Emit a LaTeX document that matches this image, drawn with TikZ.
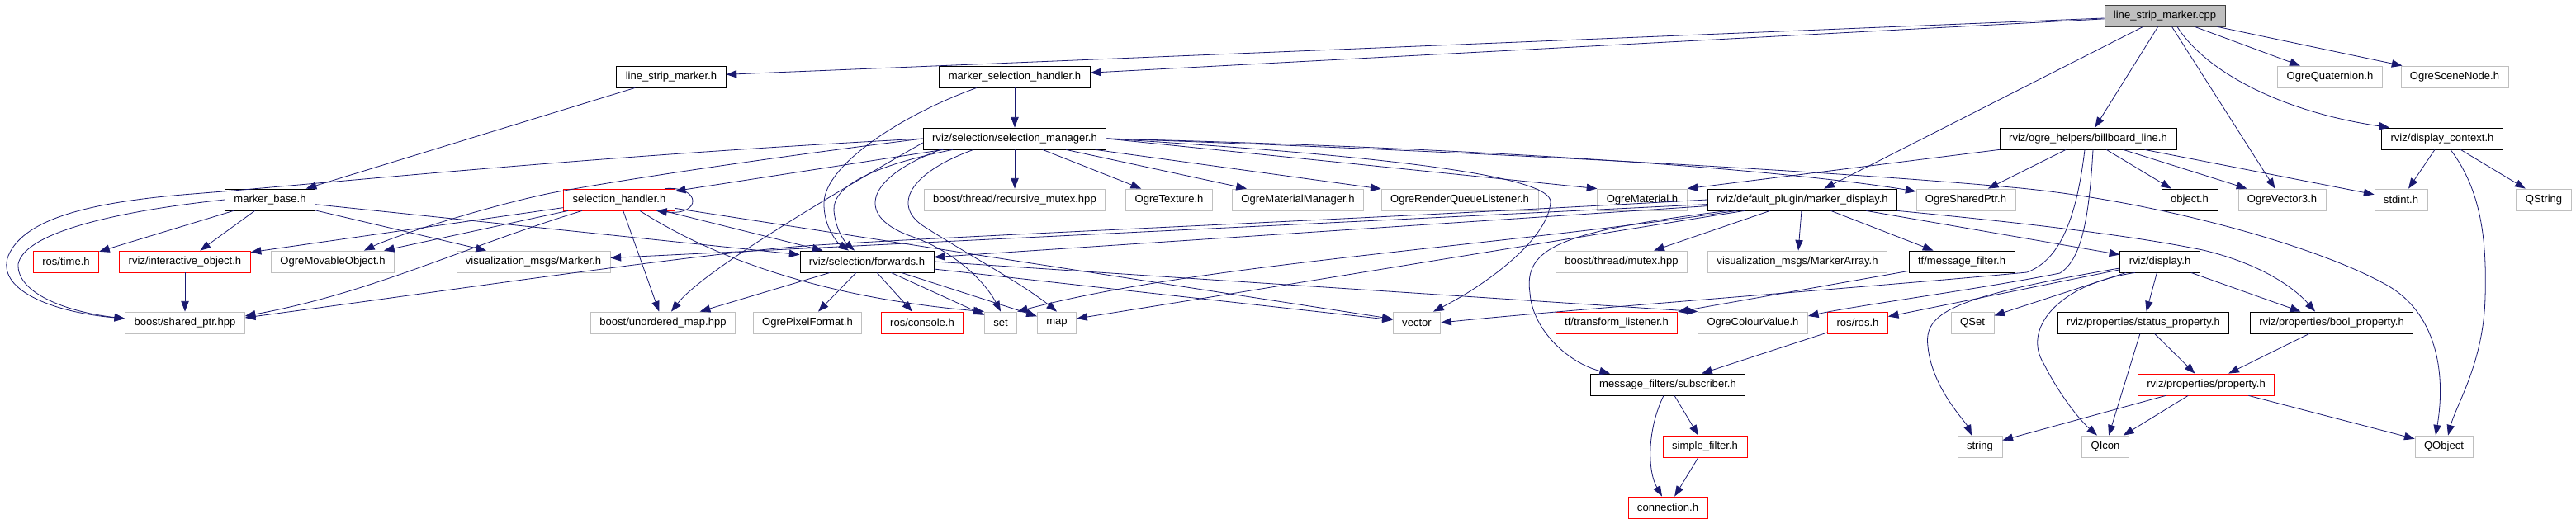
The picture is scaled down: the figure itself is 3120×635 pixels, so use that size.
\documentclass[tikz,border=0pt]{standalone}
\usepackage{fontspec}
\setmainfont{Liberation Sans}
\usepackage{xcolor}
\usetikzlibrary{arrows.meta,calc}

\definecolor{edgeblue}{HTML}{191970}
\definecolor{sysgrey}{HTML}{BFBFBF}
\definecolor{rootgrey}{HTML}{BFBFBF}
\definecolor{rootline}{HTML}{404040}

\begin{document}
\begin{tikzpicture}[x=0.75pt, y=-0.75pt, % one unit = one pixel, y grows downwards
    hdr/.style={rectangle, draw=black, line width=0.6pt, fill=white, inner xsep=8.25pt, inner ysep=0pt, minimum height=19.5pt, font=\fontsize{9.8}{11}\selectfont},
    rootfile/.style={hdr, draw=rootline, fill=rootgrey},
    sysfile/.style={hdr, draw=sysgrey},
    cutfile/.style={hdr, draw=red},
    incl/.style={draw=edgeblue, line width=0.6pt, -{Triangle[length=9.5pt, width=7pt]}}]

        % Page frame
        \useasboundingbox (0,0) rectangle (3120,635);

        % Root file
        \node[rootfile] (cpp) at (2622,19) {line\_strip\_marker.cpp};

        % First level
        \node[hdr] (lsmh) at (813,93) {line\_strip\_marker.h};
        \node[hdr] (msh) at (1229,93) {marker\_selection\_handler.h};
        \node[sysfile] (quat) at (2822,93) {OgreQuaternion.h};
        \node[sysfile] (scn) at (2973,93) {OgreSceneNode.h};

        % Second level
        \node[hdr] (selmgr) at (1229,168) {rviz/selection/selection\_manager.h};
        \node[hdr] (bbl) at (2529,168) {rviz/ogre\_helpers/billboard\_line.h};
        \node[hdr] (dctx) at (2958,168) {rviz/display\_context.h};

        % Third level
        \node[hdr] (mbase) at (327,242) {marker\_base.h};
        \node[cutfile] (shandler) at (750,242) {selection\_handler.h};
        \node[sysfile] (rmutex) at (1229,242) {boost/thread/recursive\_mutex.hpp};
        \node[sysfile] (otex) at (1416,242) {OgreTexture.h};
        \node[sysfile] (omatmgr) at (1572,242) {OgreMaterialManager.h};
        \node[sysfile] (orql) at (1768,242) {OgreRenderQueueListener.h};
        \node[sysfile] (omat) at (1989,242) {OgreMaterial.h};
        \node[hdr] (mdisp) at (2183,242) {rviz/default\_plugin/marker\_display.h};
        \node[sysfile] (osp) at (2381,242) {OgreSharedPtr.h};
        \node[hdr] (obj) at (2652,242) {object.h};
        \node[sysfile] (ov3) at (2764,242) {OgreVector3.h};
        \node[sysfile] (stdint) at (2908,242) {stdint.h};
        \node[sysfile] (qstr) at (3081,242) {QString};

        % Fourth level
        \node[cutfile] (rtime) at (80,317) {ros/time.h};
        \node[cutfile] (iobj) at (224,317) {rviz/interactive\_object.h};
        \node[sysfile] (omov) at (403,317) {OgreMovableObject.h};
        \node[sysfile] (vmark) at (646,317) {visualization\_msgs/Marker.h};
        \node[hdr] (fwd) at (1050,317) {rviz/selection/forwards.h};
        \node[sysfile] (bmutex) at (1964,317) {boost/thread/mutex.hpp};
        \node[sysfile] (vmarr) at (2177,317) {visualization\_msgs/MarkerArray.h};
        \node[hdr] (tfmf) at (2376,317) {tf/message\_filter.h};
        \node[hdr] (disp) at (2616,317) {rviz/display.h};

        % Fifth level
        \node[sysfile] (sptr) at (224,391) {boost/shared\_ptr.hpp};
        \node[sysfile] (umap) at (803,391) {boost/unordered\_map.hpp};
        \node[sysfile] (opix) at (978,391) {OgrePixelFormat.h};
        \node[cutfile] (rcon) at (1117,391) {ros/console.h};
        \node[sysfile] (set) at (1212,391) {set};
        \node[sysfile] (map) at (1280,391) {map};
        \node[sysfile] (vec) at (1716,391) {vector};
        \node[cutfile] (tftl) at (1958,391) {tf/transform\_listener.h};
        \node[sysfile] (ocol) at (2123,391) {OgreColourValue.h};
        \node[cutfile] (rros) at (2250,391) {ros/ros.h};
        \node[sysfile] (qset) at (2389,391) {QSet};
        \node[hdr] (stprop) at (2596,391) {rviz/properties/status\_property.h};
        \node[hdr] (bprop) at (2824,391) {rviz/properties/bool\_property.h};

        % Lower levels
        \node[hdr] (mfsub) at (2020,466) {message\_filters/subscriber.h};
        \node[cutfile] (prop) at (2672,466) {rviz/properties/property.h};
        \node[cutfile] (sfilt) at (2065,541) {simple\_filter.h};
        \node[sysfile] (str) at (2398,541) {string};
        \node[sysfile] (qicon) at (2550,541) {QIcon};
        \node[sysfile] (qobj) at (2960,541) {QObject};
        \node[cutfile] (conn) at (2020,615) {connection.h};

        % Includes of the root file
        \draw[incl] (cpp) -- (lsmh);
        \draw[incl] (cpp) -- (msh);
        \draw[incl] (cpp) -- (mdisp);
        \draw[incl] (cpp) -- (bbl);
        \draw[incl] (cpp) -- (ov3);
        \draw[incl] ($(cpp.south)+(15,0)$) .. controls (2670,85) and (2760,135) .. ($(dctx.north west)+(10,0)$);
        \draw[incl] (cpp) -- (quat);
        \draw[incl] (cpp) -- (scn);

        % line_strip_marker.h and marker_selection_handler.h
        \draw[incl] (lsmh) -- (mbase);
        \draw[incl] (msh) -- (selmgr);
        \draw[incl] ($(msh.south)+(-46,0)$) .. controls (1090,140) and (1000,200) .. (998,245) .. controls (997,275) and (1015,295) .. ($(fwd.north)+(-22,0)$);

        % selection_manager.h
        \draw[incl] (selmgr) -- (rmutex);
        \draw[incl] (selmgr) -- (otex);
        \draw[incl] (selmgr) -- (omatmgr);
        \draw[incl] (selmgr) -- (orql);
        \draw[incl] (selmgr.east) -- (omat.north west);
        \draw[incl] (selmgr.east) .. controls (1900,182) and (2200,212) .. ($(osp.west)+(0,-10)$);
        \draw[incl] (selmgr.east) .. controls (1700,190) and (1880,215) .. (1878,245) .. controls (1875,290) and (1800,345) .. ($(vec.north)+(20,0)$);
        \draw[incl] (selmgr.east) .. controls (1700,180) and (2200,205) .. (2447,228) .. controls (2620,245) and (2810,300) .. (2890,345) .. controls (2950,378) and (2963,450) .. ($(qobj.north)+(-10,0)$);
        \draw[incl] (selmgr) -- (shandler);
        \draw[incl] (selmgr.west) .. controls (900,195) and (730,222) .. (667,234) .. controls (590,250) and (480,285) .. ($(omov.north east)+(-37,0)$);
        \draw[incl] ($(selmgr.west)+(0,5)$) .. controls (1000,240) and (850,330) .. ($(umap.north)+(10,0)$);
        \draw[incl] (selmgr.west) .. controls (700,190) and (400,222) .. (233,235) .. controls (120,244) and (30,262) .. (10,310) .. controls (-5,350) and (60,378) .. ($(sptr.west)+(0,-5)$);
        \draw[incl] ($(selmgr.south)+(-75,0)$) .. controls (1060,200) and (1008,225) .. (1010,255) .. controls (1012,280) and (1025,295) .. ($(fwd.north)+(-15,0)$);
        \draw[incl] ($(selmgr.south)+(-90,0)$) .. controls (1050,215) and (1035,260) .. (1100,285) .. controls (1160,305) and (1195,345) .. (set.north);
        \draw[incl] ($(selmgr.south)+(-50,0)$) .. controls (1100,210) and (1080,250) .. (1120,275) .. controls (1175,310) and (1240,345) .. (map.north);

        % selection_handler.h
        \draw[incl] ($(shandler.north)+(55,0)$) .. controls (850,225) and (850,262) .. ($(shandler.south)+(45,0)$);
        \draw[incl] (shandler) -- (iobj);
        \draw[incl] (shandler) -- (omov);
        \draw[incl] ($(shandler.south)+(-45,0)$) .. controls (560,300) and (450,355) .. ($(sptr.east)+(0,-8)$);
        \draw[incl] (shandler) -- (umap);
        \draw[incl] ($(shandler.south)+(25,0)$) .. controls (860,310) and (990,360) .. (set.north west);
        \draw[incl] (shandler) -- (fwd);
        \draw[incl] (shandler) -- (vec);

        % marker_base.h
        \draw[incl] (mbase) -- (rtime);
        \draw[incl] (mbase) -- (iobj);
        \draw[incl] (mbase) -- (fwd);
        \draw[incl] (mbase) -- (vmark);
        \draw[incl] (mbase.west) .. controls (150,255) and (30,280) .. (22,320) .. controls (20,355) and (80,378) .. ($(sptr.west)+(0,-5)$);
        \draw[incl] (iobj) -- (sptr);

        % forwards.h
        \draw[incl] (fwd) -- (umap);
        \draw[incl] (fwd) -- (opix);
        \draw[incl] (fwd) -- (rcon);
        \draw[incl] (fwd) -- (set);
        \draw[incl] (fwd) -- (map);
        \draw[incl] (fwd) -- (vec);
        \draw[incl] (fwd.east) -- (ocol.north west);

        % marker_display.h
        \draw[incl] (mdisp) -- (vmark);
        \draw[incl] (mdisp) -- (fwd);
        \draw[incl] (mdisp.west) .. controls (1600,268) and (1200,284) .. (990,297) .. controls (860,305) and (560,350) .. ($(sptr.east)+(0,-6)$);
        \draw[incl] ($(mdisp.south)+(-80,0)$) .. controls (1800,300) and (1450,320) .. (set.north east);
        \draw[incl] ($(mdisp.south)+(-70,0)$) .. controls (1800,305) and (1500,355) .. ($(map.east)+(0,-5)$);
        \draw[incl] ($(mdisp.south)+(-90,0)$) .. controls (1890,280) and (1845,300) .. (1853,355) .. controls (1856,400) and (1900,440) .. ($(mfsub.north)+(-70,0)$);
        \draw[incl] (mdisp) -- (bmutex);
        \draw[incl] (mdisp) -- (vmarr);
        \draw[incl] (mdisp) -- (tfmf);
        \draw[incl] (mdisp) -- (disp);
        \draw[incl] (mdisp.south east) .. controls (2450,270) and (2580,285) .. (2668,303) .. controls (2740,320) and (2780,350) .. ($(bprop.north)+(-20,0)$);

        % billboard_line.h
        \draw[incl] (bbl) -- (omat.north east);
        \draw[incl] (bbl) -- (osp);
        \draw[incl] (bbl) -- (obj);
        \draw[incl] (bbl) -- (ov3);
        \draw[incl] (bbl) -- (stdint);
        \draw[incl] ($(bbl.south)+(-4,0)$) .. controls (2515,265) and (2495,315) .. (2455,330) .. controls (2300,345) and (1900,375) .. (vec.east);
        \draw[incl] ($(bbl.south)+(6,0)$) .. controls (2530,270) and (2520,315) .. (2495,331) .. controls (2400,350) and (2250,370) .. ($(ocol.east)+(0,-8)$);

        % display_context.h
        \draw[incl] (dctx) -- (stdint);
        \draw[incl] (dctx) -- (qstr);
        \draw[incl] ($(dctx.south)+(10,0)$) .. controls (3005,230) and (3012,290) .. (3010,360) .. controls (3008,440) and (2975,490) .. ($(qobj.north)+(5,0)$);

        % display.h
        \draw[incl] (disp) -- (rros);
        \draw[incl] (disp) -- (qset);
        \draw[incl] ($(disp.west)+(0,8)$) .. controls (2360,360) and (2330,380) .. (2335,420) .. controls (2340,470) and (2380,510) .. ($(str.north)+(-10,0)$);
        \draw[incl] ($(disp.south)+(-30,0)$) .. controls (2490,345) and (2450,400) .. (2475,440) .. controls (2495,480) and (2520,510) .. ($(qicon.north)+(-10,0)$);
        \draw[incl] (disp) -- (stprop);
        \draw[incl] (disp) -- (bprop);

        % remaining includes
        \draw[incl] (tfmf) -- (tftl);
        \draw[incl] (rros) -- (mfsub);
        \draw[incl] (stprop) -- (prop);
        \draw[incl] (stprop) -- (qicon);
        \draw[incl] (bprop) -- (prop);
        \draw[incl] (prop) -- (str);
        \draw[incl] (prop) -- (qicon);
        \draw[incl] (prop) -- (qobj);
        \draw[incl] ($(mfsub.south)+(-5,0)$) .. controls (1995,520) and (1995,570) .. ($(conn.north)+(-7,0)$);
        \draw[incl] (mfsub) -- (sfilt);
        \draw[incl] (sfilt) -- (conn);
    \end{tikzpicture}
\end{document}
